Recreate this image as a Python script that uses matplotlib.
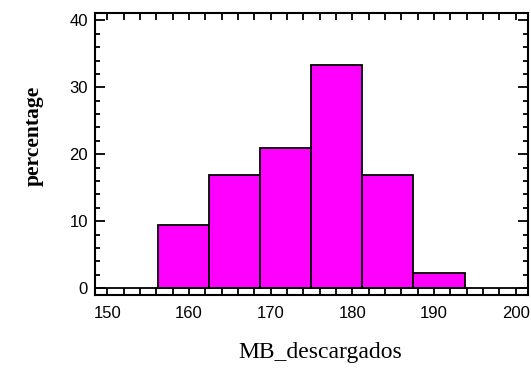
import matplotlib
matplotlib.use("Agg")
import matplotlib.pyplot as plt
from matplotlib.ticker import MultipleLocator

# histogram
bin_left = [156.25, 162.5, 168.75, 175.0, 181.25, 187.5]
bin_width = 6.25
percent = [9.5, 16.9, 20.9, 33.4, 16.9, 2.2]

fig = plt.figure(figsize=(5.31, 3.74), dpi=100)
ax = fig.add_axes([0.179, 0.211, 0.815, 0.754])

ax.bar(bin_left, percent, width=bin_width, align="edge",
       color="#ff00ff", edgecolor="black", linewidth=1.3, zorder=2)
ax.axhline(0, color="black", linewidth=1.3, zorder=3)

ax.set_xlim(148.5, 201.5)
ax.set_ylim(-1.05, 41.1)
ax.xaxis.set_major_locator(MultipleLocator(10))
ax.xaxis.set_minor_locator(MultipleLocator(2))
ax.yaxis.set_major_locator(MultipleLocator(10))
ax.yaxis.set_minor_locator(MultipleLocator(2))

for s in ax.spines.values():
    s.set_linewidth(1.5)

ax.tick_params(axis="both", which="both", direction="in", top=True, right=True,
               width=1.3, labelsize=12)
ax.tick_params(axis="y", which="major", length=7, pad=5)
ax.tick_params(axis="y", which="minor", length=3.6)
ax.tick_params(axis="x", which="major", length=5, pad=8)
ax.tick_params(axis="x", which="minor", length=5)
for lab in ax.get_xticklabels() + ax.get_yticklabels():
    lab.set_family("Liberation Sans")

ax.set_xlabel("MB_descargados", family="Liberation Serif", fontsize=17)
ax.set_ylabel("percentage", family="Liberation Serif", fontsize=15.5,
              fontweight="bold")
ax.xaxis.set_label_coords(0.52, -0.165)
ax.yaxis.set_label_coords(-0.118, 0.565)

fig.savefig("out.png", dpi=100)
